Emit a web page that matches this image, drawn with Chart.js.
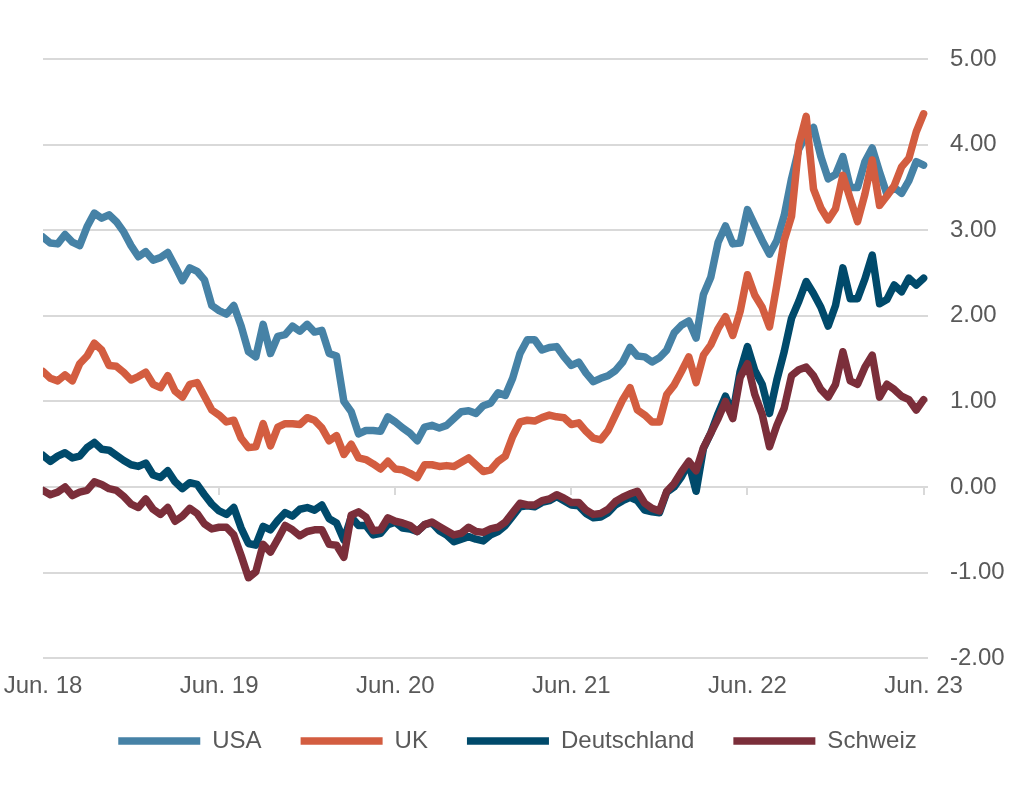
<!DOCTYPE html>
<html>
<head>
<meta charset="utf-8">
<title>Renditen 10-jährige Staatsanleihen</title>
<script src="https://cdn.jsdelivr.net/npm/chart.js@4.4.0/dist/chart.umd.min.js"></script>
<style>
html, body { margin: 0; padding: 0; background: #fff; }
#container { width: 1024px; height: 793px; position: relative; }
</style>
</head>
<body>
<div id="container"><canvas id="myChart"></canvas></div>
<script>
'use strict';

// x axis labels, one per year (Jun. 2018 .. Jun. 2023)
let tickLabels = ['Jun. 18', 'Jun. 19', 'Jun. 20', 'Jun. 21', 'Jun. 22', 'Jun. 23'];
let seriesNames = ['USA', 'UK', 'Deutschland', 'Schweiz'];

let usa = [2.92,2.85,2.84,2.95,2.86,2.82,3.04,3.20,3.14,3.18,3.10,2.98,2.82,2.69,2.75,2.65,2.68,2.74,2.58,2.41,2.56,2.52,2.42,2.12,2.06,
  2.02,2.12,1.88,1.58,1.52,1.90,1.56,1.76,1.78,1.88,1.82,1.90,1.81,1.83,1.56,1.53,1.00,0.88,0.62,0.66,0.66,0.65,0.82,0.76,
  0.69,0.63,0.54,0.70,0.72,0.69,0.72,0.80,0.88,0.89,0.86,0.95,0.98,1.10,1.07,1.27,1.56,1.72,1.72,1.60,1.63,1.64,1.52,1.42,
  1.46,1.33,1.23,1.27,1.30,1.36,1.46,1.63,1.53,1.52,1.46,1.51,1.60,1.80,1.89,1.94,1.74,2.25,2.45,2.86,3.05,2.84,2.85,3.24,
  3.06,2.88,2.72,2.88,3.17,3.60,3.95,4.11,4.20,3.86,3.60,3.65,3.86,3.50,3.50,3.80,3.96,3.68,3.42,3.50,3.43,3.58,3.80,3.76];

let uk = [1.35,1.27,1.24,1.31,1.24,1.44,1.53,1.68,1.60,1.42,1.41,1.34,1.25,1.29,1.34,1.20,1.16,1.30,1.12,1.05,1.20,1.22,1.06,0.90,0.84,
  0.76,0.78,0.57,0.46,0.47,0.74,0.48,0.70,0.74,0.74,0.73,0.81,0.78,0.69,0.54,0.60,0.38,0.50,0.34,0.32,0.27,0.21,0.30,0.21,
  0.20,0.16,0.11,0.26,0.26,0.24,0.25,0.24,0.29,0.34,0.26,0.18,0.20,0.30,0.36,0.59,0.76,0.78,0.77,0.81,0.84,0.82,0.81,0.73,
  0.75,0.65,0.57,0.55,0.66,0.84,1.02,1.16,0.90,0.84,0.76,0.76,1.08,1.19,1.35,1.52,1.22,1.54,1.66,1.85,1.99,1.77,2.05,2.48,
  2.24,2.10,1.87,2.36,2.88,3.16,4.00,4.33,3.48,3.26,3.12,3.25,3.64,3.37,3.10,3.42,3.82,3.29,3.40,3.52,3.74,3.84,4.15,4.36];

let deutschland = [0.37,0.30,0.36,0.40,0.34,0.36,0.46,0.52,0.44,0.43,0.37,0.31,0.26,0.24,0.28,0.14,0.11,0.19,0.06,-0.02,0.05,0.03,-0.09,-0.20,-0.28,
  -0.32,-0.24,-0.48,-0.66,-0.68,-0.46,-0.50,-0.39,-0.30,-0.34,-0.26,-0.24,-0.27,-0.21,-0.37,-0.42,-0.62,-0.35,-0.45,-0.45,-0.56,-0.54,-0.44,-0.41,
  -0.48,-0.49,-0.52,-0.44,-0.42,-0.51,-0.56,-0.64,-0.61,-0.58,-0.61,-0.63,-0.56,-0.52,-0.45,-0.34,-0.23,-0.22,-0.23,-0.18,-0.16,-0.11,-0.16,-0.21,
  -0.22,-0.31,-0.36,-0.35,-0.30,-0.21,-0.16,-0.12,-0.16,-0.27,-0.29,-0.30,-0.06,0.00,0.12,0.28,-0.05,0.45,0.63,0.86,1.06,0.86,1.35,1.64,
  1.36,1.20,0.86,1.25,1.58,1.97,2.17,2.40,2.26,2.10,1.88,2.12,2.56,2.20,2.20,2.43,2.71,2.14,2.19,2.36,2.28,2.44,2.36,2.44];

let schweiz = [-0.04,-0.09,-0.06,0.00,-0.10,-0.06,-0.04,0.06,0.03,-0.02,-0.04,-0.11,-0.20,-0.24,-0.14,-0.26,-0.32,-0.24,-0.40,-0.34,-0.25,-0.31,-0.43,-0.49,-0.47,
  -0.47,-0.56,-0.80,-1.06,-0.99,-0.67,-0.76,-0.61,-0.45,-0.50,-0.57,-0.52,-0.50,-0.50,-0.67,-0.68,-0.82,-0.33,-0.29,-0.35,-0.51,-0.50,-0.36,-0.40,
  -0.42,-0.45,-0.52,-0.44,-0.41,-0.46,-0.51,-0.56,-0.54,-0.47,-0.52,-0.53,-0.49,-0.47,-0.41,-0.30,-0.19,-0.21,-0.21,-0.16,-0.14,-0.09,-0.13,-0.18,
  -0.18,-0.27,-0.32,-0.31,-0.26,-0.17,-0.12,-0.08,-0.05,-0.19,-0.25,-0.28,-0.05,0.04,0.18,0.30,0.19,0.46,0.63,0.80,1.00,0.80,1.28,1.44,
  1.08,0.85,0.47,0.72,0.92,1.30,1.37,1.40,1.30,1.14,1.05,1.20,1.58,1.24,1.20,1.40,1.54,1.05,1.20,1.14,1.06,1.02,0.90,1.02];

// months since Jun. 2018 for every value (half month steps)
let months = usa.map((v, i) => i / 2);

let lineColors = ['#4682a6', '#d35d40', '#004a6b', '#7b2e3a'];
let textColor = '#595959';
let gridColor = '#d9d9d9';

Chart.defaults.font.family = '"Liberation Sans", Arial, sans-serif';
Chart.defaults.font.size = 24;
Chart.defaults.color = textColor;

function makeDataset(i, values) {
  return {
    label: seriesNames[i],
    data: months.map((m, j) => ({ x: m, y: values[j] })),
    borderColor: lineColors[i],
    backgroundColor: lineColors[i],
    borderWidth: 7.5,
    borderCapStyle: 'round',
    borderJoinStyle: 'round',
    pointRadius: 0,
    tension: 0,
    fill: false,
    // last series on top, like the original
    order: 4 - i
  };
}

// little tick marks hanging off the zero line
let zeroTicks = {
  id: 'zeroTicks',
  beforeDatasetsDraw(chart) {
    let ctx = chart.ctx;
    let xScale = chart.scales.x;
    let y0 = chart.scales.y.getPixelForValue(0);
    ctx.save();
    ctx.strokeStyle = gridColor;
    ctx.lineWidth = 2;
    xScale.ticks.forEach(t => {
      let x = Math.round(xScale.getPixelForValue(t.value));
      ctx.beginPath();
      ctx.moveTo(x, y0);
      ctx.lineTo(x, y0 + 8);
      ctx.stroke();
    });
    ctx.restore();
  }
};

// pull the legend a bit closer to the axis labels
let legendNudge = {
  id: 'legendNudge',
  afterLayout(chart) {
    let lg = chart.legend;
    lg.top -= 25;
    lg.bottom -= 25;
    lg.left += 15;
    lg.right += 15;
  }
};

let ctx = document.getElementById('myChart').getContext('2d');
let chart = new Chart(ctx, {
  type: 'line',
  data: {
    datasets: [
      makeDataset(0, usa),
      makeDataset(1, uk),
      makeDataset(2, deutschland),
      makeDataset(3, schweiz)
    ]
  },
  options: {
    responsive: true,
    maintainAspectRatio: false,
    animation: false,
    layout: { padding: { top: 59, right: 19, bottom: 5, left: 0 } },
    scales: {
      x: {
        type: 'linear',
        min: 0,
        max: 60.3,
        afterBuildTicks: scale => {
          scale.ticks = tickLabels.map((t, i) => ({ value: i * 12 }));
        },
        afterFit: scale => {
          scale.paddingLeft = 43;
        },
        ticks: {
          callback: value => tickLabels[Math.round(value / 12)],
          padding: 14,
          maxRotation: 0,
          autoSkip: false
        },
        grid: { display: false, drawTicks: false },
        border: { display: false }
      },
      y: {
        position: 'right',
        min: -2,
        max: 5,
        afterFit: scale => {
          scale.width = 77;
        },
        ticks: {
          stepSize: 1,
          padding: 22,
          callback: value => value.toFixed(2)
        },
        grid: { color: gridColor, lineWidth: 2, drawTicks: false },
        border: { display: false }
      }
    },
    plugins: {
      legend: {
        position: 'bottom',
        labels: {
          usePointStyle: true,
          pointStyle: 'line',
          pointStyleWidth: 82,
          padding: 39,
          sort: (a, b) => a.datasetIndex - b.datasetIndex
        }
      },
      tooltip: { enabled: false }
    }
  },
  plugins: [zeroTicks, legendNudge]
});
</script>
</body>
</html>
